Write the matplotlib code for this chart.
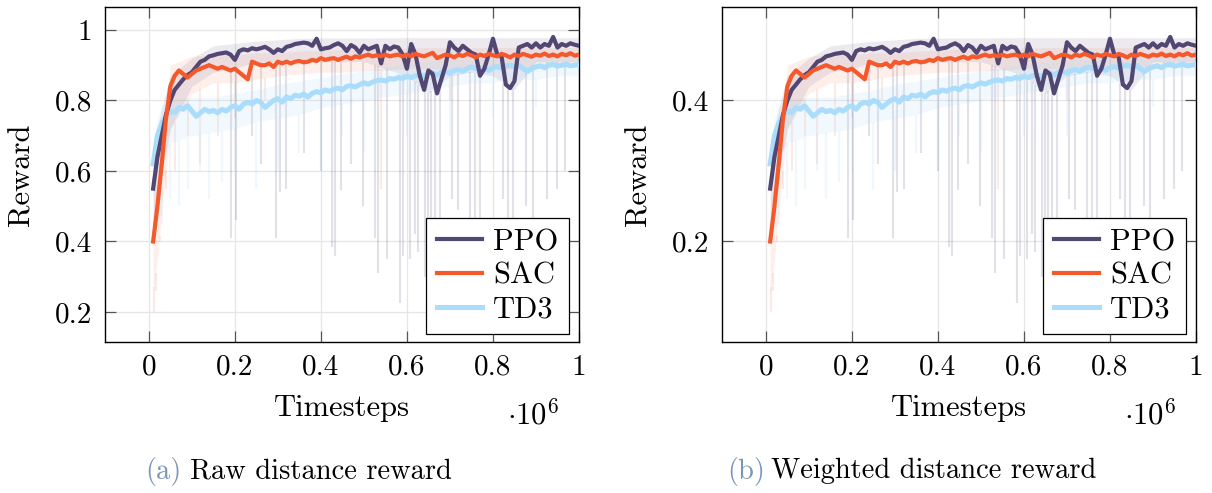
import matplotlib
matplotlib.use('Agg')
import matplotlib.pyplot as plt
import numpy as np

plt.rcParams['font.family'] = 'cmr10'
plt.rcParams['mathtext.fontset'] = 'cm'
plt.rcParams['axes.unicode_minus'] = False

# timesteps (x 10^6), one logged point every 10k steps
steps = [0.01, 0.02, 0.03, 0.04, 0.05, 0.06, 0.07, 0.08, 0.09, 0.10,
         0.11, 0.12, 0.13, 0.14, 0.15, 0.16, 0.17, 0.18, 0.19, 0.20,
         0.21, 0.22, 0.23, 0.24, 0.25, 0.26, 0.27, 0.28, 0.29, 0.30,
         0.31, 0.32, 0.33, 0.34, 0.35, 0.36, 0.37, 0.38, 0.39, 0.40,
         0.41, 0.42, 0.43, 0.44, 0.45, 0.46, 0.47, 0.48, 0.49, 0.50,
         0.51, 0.52, 0.53, 0.54, 0.55, 0.56, 0.57, 0.58, 0.59, 0.60,
         0.61, 0.62, 0.63, 0.64, 0.65, 0.66, 0.67, 0.68, 0.69, 0.70,
         0.71, 0.72, 0.73, 0.74, 0.75, 0.76, 0.77, 0.78, 0.79, 0.80,
         0.81, 0.82, 0.83, 0.84, 0.85, 0.86, 0.87, 0.88, 0.89, 0.90,
         0.91, 0.92, 0.93, 0.94, 0.95, 0.96, 0.97, 0.98, 0.99, 1.00]

# ---- (a) raw distance reward: mean curves ----
ppo_raw = [0.55, 0.64, 0.70, 0.76, 0.80, 0.83, 0.845, 0.86, 0.872, 0.88,
           0.895, 0.91, 0.915, 0.925, 0.928, 0.932, 0.934, 0.936, 0.93, 0.915,
           0.94, 0.945, 0.942, 0.948, 0.945, 0.948, 0.952, 0.945, 0.935, 0.945,
           0.94, 0.952, 0.955, 0.96, 0.962, 0.964, 0.962, 0.955, 0.975, 0.945,
           0.948, 0.95, 0.957, 0.962, 0.955, 0.94, 0.957, 0.95, 0.935, 0.955,
           0.945, 0.95, 0.955, 0.905, 0.955, 0.945, 0.953, 0.95, 0.93, 0.89,
           0.96, 0.93, 0.87, 0.83, 0.885, 0.875, 0.82, 0.86, 0.90, 0.965,
           0.95, 0.94, 0.955, 0.945, 0.935, 0.93, 0.87, 0.89, 0.93, 0.975,
           0.93, 0.925, 0.845, 0.835, 0.855, 0.95, 0.955, 0.96, 0.95, 0.962,
           0.95, 0.96, 0.955, 0.98, 0.95, 0.96, 0.955, 0.962, 0.958, 0.955]
sac_raw = [0.40, 0.50, 0.62, 0.75, 0.84, 0.87, 0.885, 0.875, 0.865, 0.875,
           0.885, 0.89, 0.895, 0.90, 0.895, 0.89, 0.895, 0.89, 0.885, 0.89,
           0.88, 0.87, 0.86, 0.91, 0.905, 0.90, 0.90, 0.905, 0.895, 0.91,
           0.905, 0.91, 0.905, 0.91, 0.912, 0.908, 0.91, 0.915, 0.912, 0.92,
           0.915, 0.918, 0.92, 0.915, 0.92, 0.924, 0.918, 0.925, 0.922, 0.926,
           0.93, 0.925, 0.928, 0.925, 0.93, 0.925, 0.928, 0.93, 0.925, 0.93,
           0.925, 0.932, 0.928, 0.925, 0.93, 0.935, 0.92, 0.925, 0.93, 0.928,
           0.922, 0.93, 0.926, 0.932, 0.928, 0.922, 0.93, 0.926, 0.932, 0.928,
           0.925, 0.932, 0.928, 0.922, 0.93, 0.926, 0.932, 0.928, 0.924, 0.93,
           0.927, 0.933, 0.926, 0.93, 0.925, 0.932, 0.928, 0.934, 0.927, 0.93]
td3_raw = [0.62, 0.70, 0.735, 0.755, 0.77, 0.765, 0.78, 0.775, 0.785, 0.77,
           0.755, 0.765, 0.775, 0.768, 0.772, 0.765, 0.775, 0.77, 0.78, 0.785,
           0.775, 0.79, 0.795, 0.79, 0.80, 0.795, 0.78, 0.79, 0.80, 0.805,
           0.795, 0.81, 0.805, 0.815, 0.812, 0.818, 0.81, 0.82, 0.825, 0.822,
           0.83, 0.826, 0.832, 0.835, 0.83, 0.84, 0.842, 0.838, 0.845, 0.85,
           0.846, 0.852, 0.856, 0.858, 0.855, 0.862, 0.86, 0.865, 0.862, 0.868,
           0.865, 0.87, 0.872, 0.868, 0.875, 0.878, 0.872, 0.88, 0.882, 0.878,
           0.885, 0.887, 0.883, 0.89, 0.895, 0.89, 0.893, 0.89, 0.885, 0.893,
           0.896, 0.892, 0.898, 0.90, 0.895, 0.90, 0.89, 0.882, 0.89, 0.895,
           0.898, 0.893, 0.90, 0.902, 0.897, 0.90, 0.903, 0.898, 0.90, 0.902]

# ---- (b) weighted distance reward: mean curves ----
ppo_wtd = [0.275, 0.32, 0.35, 0.38, 0.40, 0.415, 0.4225, 0.43, 0.436, 0.44,
           0.4475, 0.455, 0.4575, 0.4625, 0.464, 0.466, 0.467, 0.468, 0.465, 0.4575,
           0.47, 0.4725, 0.471, 0.474, 0.4725, 0.474, 0.476, 0.4725, 0.4675, 0.4725,
           0.47, 0.476, 0.4775, 0.48, 0.481, 0.482, 0.481, 0.4775, 0.4875, 0.4725,
           0.474, 0.475, 0.4785, 0.481, 0.4775, 0.47, 0.4785, 0.475, 0.4675, 0.4775,
           0.4725, 0.475, 0.4775, 0.4525, 0.4775, 0.4725, 0.4765, 0.475, 0.465, 0.445,
           0.48, 0.465, 0.435, 0.415, 0.4425, 0.4375, 0.41, 0.43, 0.45, 0.4825,
           0.475, 0.47, 0.4775, 0.4725, 0.4675, 0.465, 0.435, 0.445, 0.465, 0.4875,
           0.465, 0.4625, 0.4225, 0.4175, 0.4275, 0.475, 0.4775, 0.48, 0.475, 0.481,
           0.475, 0.48, 0.4775, 0.49, 0.475, 0.48, 0.4775, 0.481, 0.479, 0.4775]
sac_wtd = [0.20, 0.25, 0.31, 0.375, 0.42, 0.435, 0.4425, 0.4375, 0.4325, 0.4375,
           0.4425, 0.445, 0.4475, 0.45, 0.4475, 0.445, 0.4475, 0.445, 0.4425, 0.445,
           0.44, 0.435, 0.43, 0.455, 0.4525, 0.45, 0.45, 0.4525, 0.4475, 0.455,
           0.4525, 0.455, 0.4525, 0.455, 0.456, 0.454, 0.455, 0.4575, 0.456, 0.46,
           0.4575, 0.459, 0.46, 0.4575, 0.46, 0.462, 0.459, 0.4625, 0.461, 0.463,
           0.465, 0.4625, 0.464, 0.4625, 0.465, 0.4625, 0.464, 0.465, 0.4625, 0.465,
           0.4625, 0.466, 0.464, 0.4625, 0.465, 0.4675, 0.46, 0.4625, 0.465, 0.464,
           0.461, 0.465, 0.463, 0.466, 0.464, 0.461, 0.465, 0.463, 0.466, 0.464,
           0.4625, 0.466, 0.464, 0.461, 0.465, 0.463, 0.466, 0.464, 0.462, 0.465,
           0.4635, 0.4665, 0.463, 0.465, 0.4625, 0.466, 0.464, 0.467, 0.4635, 0.465]
td3_wtd = [0.31, 0.35, 0.3675, 0.3775, 0.385, 0.3825, 0.39, 0.3875, 0.3925, 0.385,
           0.3775, 0.3825, 0.3875, 0.384, 0.386, 0.3825, 0.3875, 0.385, 0.39, 0.3925,
           0.3875, 0.395, 0.3975, 0.395, 0.40, 0.3975, 0.39, 0.395, 0.40, 0.4025,
           0.3975, 0.405, 0.4025, 0.4075, 0.406, 0.409, 0.405, 0.41, 0.4125, 0.411,
           0.415, 0.413, 0.416, 0.4175, 0.415, 0.42, 0.421, 0.419, 0.4225, 0.425,
           0.423, 0.426, 0.428, 0.429, 0.4275, 0.431, 0.43, 0.4325, 0.431, 0.434,
           0.4325, 0.435, 0.436, 0.434, 0.4375, 0.439, 0.436, 0.44, 0.441, 0.439,
           0.4425, 0.4435, 0.4415, 0.445, 0.4475, 0.445, 0.4465, 0.445, 0.4425, 0.4465,
           0.448, 0.446, 0.449, 0.45, 0.4475, 0.45, 0.445, 0.441, 0.445, 0.4475,
           0.449, 0.4465, 0.45, 0.451, 0.4485, 0.45, 0.4515, 0.449, 0.45, 0.451]

# ---- spread bands (coarser) ----
band_steps = [0.01, 0.02, 0.03, 0.05, 0.10, 0.15, 0.20, 0.25, 0.30, 0.35, 0.40, 0.45,
              0.50, 0.55, 0.60, 0.65, 0.70, 0.75, 0.80, 0.85, 0.90, 0.95, 1.00]
ppo_raw_lo = [0.45, 0.55, 0.60, 0.72, 0.84, 0.88, 0.89, 0.91, 0.91, 0.92, 0.91, 0.91,
              0.91, 0.89, 0.87, 0.82, 0.87, 0.88, 0.87, 0.83, 0.91, 0.91, 0.91]
ppo_raw_hi = [0.66, 0.72, 0.78, 0.87, 0.92, 0.955, 0.962, 0.968, 0.972, 0.976, 0.977, 0.977,
              0.977, 0.978, 0.978, 0.978, 0.978, 0.978, 0.978, 0.978, 0.978, 0.978, 0.978]
sac_raw_lo = [0.25, 0.35, 0.48, 0.72, 0.82, 0.85, 0.85, 0.86, 0.87, 0.875, 0.88, 0.88,
              0.885, 0.885, 0.89, 0.89, 0.89, 0.89, 0.89, 0.89, 0.895, 0.895, 0.895]
sac_raw_hi = [0.52, 0.58, 0.68, 0.90, 0.925, 0.93, 0.93, 0.935, 0.935, 0.94, 0.942, 0.945,
              0.945, 0.948, 0.948, 0.95, 0.95, 0.95, 0.95, 0.95, 0.95, 0.95, 0.95]
td3_raw_lo = [0.52, 0.60, 0.64, 0.68, 0.70, 0.71, 0.72, 0.74, 0.75, 0.76, 0.78, 0.79,
              0.80, 0.81, 0.82, 0.83, 0.84, 0.85, 0.85, 0.86, 0.86, 0.87, 0.87]
td3_raw_hi = [0.68, 0.75, 0.78, 0.80, 0.81, 0.81, 0.82, 0.83, 0.845, 0.855, 0.865, 0.875,
              0.885, 0.895, 0.905, 0.91, 0.915, 0.92, 0.925, 0.925, 0.925, 0.93, 0.93]

ppo_wtd_lo = [0.225, 0.275, 0.30, 0.36, 0.42, 0.44, 0.445, 0.455, 0.455, 0.46, 0.455, 0.455,
              0.455, 0.445, 0.435, 0.41, 0.435, 0.44, 0.435, 0.415, 0.455, 0.455, 0.455]
ppo_wtd_hi = [0.33, 0.36, 0.39, 0.435, 0.46, 0.4775, 0.481, 0.484, 0.486, 0.488, 0.4885, 0.4885,
              0.4885, 0.489, 0.489, 0.489, 0.489, 0.489, 0.489, 0.489, 0.489, 0.489, 0.489]
sac_wtd_lo = [0.125, 0.175, 0.24, 0.36, 0.41, 0.425, 0.425, 0.43, 0.435, 0.4375, 0.44, 0.44,
              0.4425, 0.4425, 0.445, 0.445, 0.445, 0.445, 0.445, 0.445, 0.4475, 0.4475, 0.4475]
sac_wtd_hi = [0.26, 0.29, 0.34, 0.45, 0.4625, 0.465, 0.465, 0.4675, 0.4675, 0.47, 0.471, 0.4725,
              0.4725, 0.474, 0.474, 0.475, 0.475, 0.475, 0.475, 0.475, 0.475, 0.475, 0.475]
td3_wtd_lo = [0.26, 0.30, 0.32, 0.34, 0.35, 0.355, 0.36, 0.37, 0.375, 0.38, 0.39, 0.395,
              0.40, 0.405, 0.41, 0.415, 0.42, 0.425, 0.425, 0.43, 0.43, 0.435, 0.435]
td3_wtd_hi = [0.34, 0.375, 0.39, 0.40, 0.405, 0.405, 0.41, 0.415, 0.4225, 0.4275, 0.4325, 0.4375,
              0.4425, 0.4475, 0.4525, 0.455, 0.4575, 0.46, 0.4625, 0.4625, 0.4625, 0.465, 0.465]

# ---- occasional deep drops of single runs ----
ppo_drop_steps = [0.19, 0.202, 0.24, 0.26, 0.295, 0.306, 0.32, 0.36, 0.40, 0.425,
                  0.433, 0.446, 0.47, 0.498, 0.526, 0.533, 0.553, 0.584, 0.591, 0.607,
                  0.619, 0.626, 0.642, 0.65, 0.657, 0.665, 0.677, 0.704, 0.719, 0.747,
                  0.758, 0.77, 0.824, 0.836, 0.847, 0.878, 0.894, 0.925, 0.948, 0.967]
ppo_drop_raw = [0.41, 0.46, 0.70, 0.62, 0.41, 0.54, 0.55, 0.65, 0.60, 0.385,
                0.36, 0.545, 0.62, 0.50, 0.41, 0.31, 0.35, 0.225, 0.36, 0.35,
                0.42, 0.37, 0.30, 0.30, 0.28, 0.30, 0.30, 0.52, 0.49, 0.30,
                0.35, 0.35, 0.52, 0.30, 0.35, 0.50, 0.45, 0.52, 0.55, 0.60]
ppo_drop_wtd = [0.205, 0.23, 0.35, 0.31, 0.205, 0.27, 0.275, 0.325, 0.30, 0.1925,
                0.18, 0.2725, 0.31, 0.25, 0.205, 0.155, 0.175, 0.1125, 0.18, 0.175,
                0.21, 0.185, 0.15, 0.15, 0.14, 0.15, 0.15, 0.26, 0.245, 0.15,
                0.175, 0.175, 0.26, 0.15, 0.175, 0.25, 0.225, 0.26, 0.275, 0.30]
sac_drop_steps = [0.012, 0.016, 0.025, 0.04, 0.06, 0.09, 0.12, 0.16, 0.20, 0.27, 0.54, 0.70]
sac_drop_raw = [0.20, 0.26, 0.40, 0.55, 0.60, 0.70, 0.62, 0.70, 0.75, 0.80, 0.55, 0.80]
sac_drop_wtd = [0.10, 0.13, 0.20, 0.275, 0.30, 0.35, 0.31, 0.35, 0.375, 0.40, 0.275, 0.40]
td3_drop_steps = [0.03, 0.05, 0.07, 0.09, 0.12, 0.14, 0.17, 0.20, 0.25, 0.30,
                  0.35, 0.40, 0.45, 0.50, 0.60, 0.70, 0.80, 0.90]
td3_drop_raw = [0.45, 0.52, 0.50, 0.55, 0.60, 0.52, 0.57, 0.60, 0.55, 0.60,
                0.65, 0.60, 0.70, 0.65, 0.70, 0.70, 0.75, 0.78]
td3_drop_wtd = [0.225, 0.26, 0.25, 0.275, 0.30, 0.26, 0.285, 0.30, 0.275, 0.30,
                0.325, 0.30, 0.35, 0.325, 0.35, 0.35, 0.375, 0.39]

algos = ['PPO', 'SAC', 'TD3']
colors = {'PPO': '#524672', 'SAC': '#f4582b', 'TD3': '#aadcfb'}
band_alpha = {'PPO': 0.11, 'SAC': 0.09, 'TD3': 0.16}
drop_alpha = {'PPO': 0.16, 'SAC': 0.12, 'TD3': 0.2}
line_width = {'PPO': 3.0, 'SAC': 3.0, 'TD3': 3.6}

raw_panel = {
    'PPO': (ppo_raw, ppo_raw_lo, ppo_raw_hi, ppo_drop_steps, ppo_drop_raw),
    'SAC': (sac_raw, sac_raw_lo, sac_raw_hi, sac_drop_steps, sac_drop_raw),
    'TD3': (td3_raw, td3_raw_lo, td3_raw_hi, td3_drop_steps, td3_drop_raw),
}
wtd_panel = {
    'PPO': (ppo_wtd, ppo_wtd_lo, ppo_wtd_hi, ppo_drop_steps, ppo_drop_wtd),
    'SAC': (sac_wtd, sac_wtd_lo, sac_wtd_hi, sac_drop_steps, sac_drop_wtd),
    'TD3': (td3_wtd, td3_wtd_lo, td3_wtd_hi, td3_drop_steps, td3_drop_wtd),
}

x_ticks = [0, 0.2, 0.4, 0.6, 0.8, 1.0]
x_ticklabels = ['0', '0.2', '0.4', '0.6', '0.8', '1']


def draw_panel(ax, panel, ylim, yticks, yticklabels):
    # shaded spread and single-run drops first
    for name in algos:
        mean, lo, hi, dx, dy = panel[name]
        ax.fill_between(band_steps, lo, hi, color=colors[name],
                        alpha=band_alpha[name], lw=0, zorder=1)
        tops = np.interp(dx, band_steps, lo)
        ax.vlines(dx, dy, tops, color=colors[name],
                  alpha=drop_alpha[name], lw=1.5, zorder=1)
    # mean curves
    for name, z in [('TD3', 3), ('PPO', 4), ('SAC', 5)]:
        ax.plot(steps, panel[name][0], color=colors[name], lw=line_width[name],
                label=name, zorder=z)

    ax.set_xlim(-0.102, 1.0)
    ax.set_ylim(*ylim)
    ax.set_xticks(x_ticks)
    ax.set_xticklabels(x_ticklabels)
    ax.set_yticks(yticks)
    ax.set_yticklabels(yticklabels)
    ax.grid(True, color='#e6e6e6', lw=0.9)
    ax.set_axisbelow(True)
    ax.tick_params(direction='in', length=8, width=0.9, color='#555555',
                   top=True, right=True, labelsize=21, pad=9)
    for sp in ax.spines.values():
        sp.set_linewidth(1.0)
        sp.set_color('black')

    ax.set_xlabel('Timesteps', fontsize=22, labelpad=10)
    ax.text(-0.175, 0.5, 'Reward', rotation=90, ha='center', va='center',
            fontsize=22, transform=ax.transAxes)
    ax.text(0.903, -0.245, r'$\cdot 10^6$', ha='center', va='baseline',
            fontsize=22, transform=ax.transAxes)

    handles, labels = ax.get_legend_handles_labels()
    order = [labels.index(a) for a in algos]
    leg = ax.legend([handles[i] for i in order], [labels[i] for i in order],
                    loc='lower right', bbox_to_anchor=(0.979, 0.024),
                    borderaxespad=0, fontsize=22, frameon=True, fancybox=False,
                    framealpha=1, edgecolor='black', handlelength=1.5,
                    handletextpad=0.35, labelspacing=0.2, borderpad=0.35)
    leg.get_frame().set_linewidth(0.9)
    leg.set_zorder(10)


fig = plt.figure(figsize=(12.12, 4.93), dpi=100)
ax1 = fig.add_axes([0.0866, 0.3063, 0.3911, 0.6795])
ax2 = fig.add_axes([0.5957, 0.3063, 0.3911, 0.6795])

draw_panel(ax1, raw_panel, (0.115, 1.065), [0.2, 0.4, 0.6, 0.8, 1.0],
           ['0.2', '0.4', '0.6', '0.8', '1'])
draw_panel(ax2, wtd_panel, (0.0575, 0.5325), [0.2, 0.4], ['0.2', '0.4'])

cap_color = '#7797b7'
fig.text(145 / 1212, 0.044, '(a)', color=cap_color, fontsize=20.5, va='center')
fig.text(190 / 1212, 0.044, 'Raw distance reward', fontsize=20.5, va='center')
fig.text(727 / 1212, 0.044, '(b)', color=cap_color, fontsize=20.5, va='center')
fig.text(771 / 1212, 0.044, 'Weighted distance reward', fontsize=20.5, va='center')

fig.savefig('out.png', dpi=100)
